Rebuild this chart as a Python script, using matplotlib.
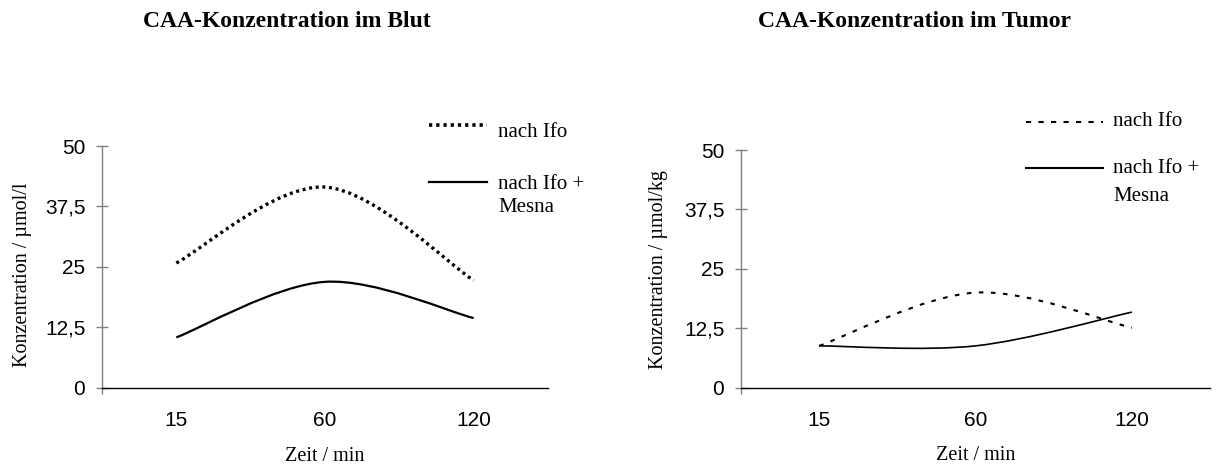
import matplotlib.pyplot as plt
import numpy as np
from matplotlib.patches import PathPatch
from matplotlib.path import Path

plt.rcParams["font.family"] = ["Liberation Serif", "DejaVu Serif"]

# Zeitpunkte (Kategorien)
time_labels = ["15", "60", "120"]

# CAA-Konzentration im Blut (µmol/l)
blood_ifo = [25.8, 41.5, 22.2]
blood_mesna = [10.4, 21.9, 14.4]

# CAA-Konzentration im Tumor (µmol/kg)
tumor_ifo = [8.8, 20.0, 12.6]
tumor_mesna = [8.8, 8.8, 15.9]

y_ticks = [0, 12.5, 25, 37.5, 50]
y_tick_labels = ["0", "12,5", "25", "37,5", "50"]

SANS = "Liberation Sans"


def smooth_path(xs, ys):
    # Excel-artige Glaettung: kubische Bezier-Kurven durch die Messpunkte
    pts = np.column_stack([xs, ys]).astype(float)
    padded = np.vstack([pts[0], pts, pts[-1]])
    verts = [pts[0]]
    codes = [Path.MOVETO]
    for i in range(len(pts) - 1):
        p0, p1, p2, p3 = padded[i], padded[i + 1], padded[i + 2], padded[i + 3]
        verts += [p1 + (p2 - p0) / 6, p2 - (p3 - p1) / 6, p2]
        codes += [Path.CURVE4] * 3
    return Path(verts, codes)


def draw_curve(ax, values, **style):
    x = np.arange(len(values))
    patch = PathPatch(smooth_path(x, values), fill=False, **style)
    ax.add_patch(patch)


def style_axes(ax, ylabel, ylabel_pos):
    ax.set_xlim(-0.5, len(time_labels) - 0.5)
    ax.set_ylim(0, 50)
    ax.set_xticks(np.arange(len(time_labels)))
    ax.set_xticklabels(time_labels, fontfamily=SANS, fontsize=15)
    ax.set_xticks([-0.5], minor=True)
    ax.set_yticks(y_ticks)
    ax.set_yticklabels(y_tick_labels, fontfamily=SANS, fontsize=15)
    ax.tick_params(axis="x", which="major", length=0, pad=17)
    ax.tick_params(axis="x", which="minor", length=4, width=1, color="#808080", direction="out")
    ax.tick_params(axis="y", direction="inout", length=9, width=1, color="#808080", pad=7.5)

    for side in ["top", "right"]:
        ax.spines[side].set_visible(False)
    ax.spines["left"].set_color("#808080")
    ax.spines["left"].set_linewidth(1)
    ax.spines["bottom"].set_color("black")
    ax.spines["bottom"].set_linewidth(1)

    ax.set_xlabel("Zeit / min", fontsize=14.5)
    ax.xaxis.label.set_va("center")
    ax.xaxis.set_label_coords(0.5, -0.285)
    ax.set_ylabel(ylabel, fontsize=14.5)
    ax.yaxis.label.set_va("center")
    ax.yaxis.set_label_coords(*ylabel_pos)


def draw_legend(ax, entries):
    # entries: (x0, x1, y_line, x_text, [(text, y_baseline), ...], style)
    for x0, x1, y_line, x_text, lines, style in entries:
        ax.plot([x0, x1], [y_line, y_line], transform=ax.transAxes,
                clip_on=False, color="black", **style)
        for text, y_text in lines:
            ax.text(x_text, y_text, text, transform=ax.transAxes,
                    fontsize=15, va="baseline", ha="left")


fig = plt.figure(figsize=(12.17, 4.75), dpi=100)

ax1 = fig.add_axes([0.0838, 0.1838, 0.3665, 0.5088])
ax2 = fig.add_axes([0.6089, 0.1838, 0.3854, 0.5004])

ifo_blood_style = dict(linewidth=2.4, linestyle=(0, (0.9, 1.1)), capstyle="butt", edgecolor="black")
mesna_blood_style = dict(linewidth=1.6, linestyle="-", edgecolor="black")
ifo_tumor_style = dict(linewidth=1.5, linestyle=(0, (2.2, 3.6)), capstyle="butt", edgecolor="black")
mesna_tumor_style = dict(linewidth=1.2, linestyle="-", edgecolor="black")

draw_curve(ax1, blood_ifo, **ifo_blood_style)
draw_curve(ax1, blood_mesna, **mesna_blood_style)
style_axes(ax1, "Konzentration / µmol/l", (-0.179, 0.466))

draw_curve(ax2, tumor_ifo, **ifo_tumor_style)
draw_curve(ax2, tumor_mesna, **mesna_tumor_style)
style_axes(ax2, "Konzentration / µmol/kg", (-0.177, 0.499))

draw_legend(ax1, [
    (0.733, 0.863, 1.087, 0.888, [("nach Ifo", 1.038)],
     dict(linewidth=2.6, linestyle=(0, (0.9, 1.1)), solid_capstyle="butt", dash_capstyle="butt")),
    (0.733, 0.863, 0.851, 0.888, [("nach Ifo +", 0.821), ("Mesna", 0.729)],
     dict(linewidth=1.6, linestyle="-")),
])
draw_legend(ax2, [
    (0.608, 0.772, 1.119, 0.793, [("nach Ifo", 1.101)],
     dict(linewidth=1.5, linestyle=(0, (2.5, 3.5)), dash_capstyle="butt")),
    (0.608, 0.772, 0.923, 0.793, [("nach Ifo +", 0.902), ("Mesna", 0.785)],
     dict(linewidth=1.5, linestyle="-")),
])

fig.text(0.2358, 0.9438, "CAA-Konzentration im Blut", fontsize=17,
         fontweight="bold", ha="center", va="baseline")
fig.text(0.7518, 0.9438, "CAA-Konzentration im Tumor", fontsize=17,
         fontweight="bold", ha="center", va="baseline")

fig.savefig("out.png", dpi=100)
